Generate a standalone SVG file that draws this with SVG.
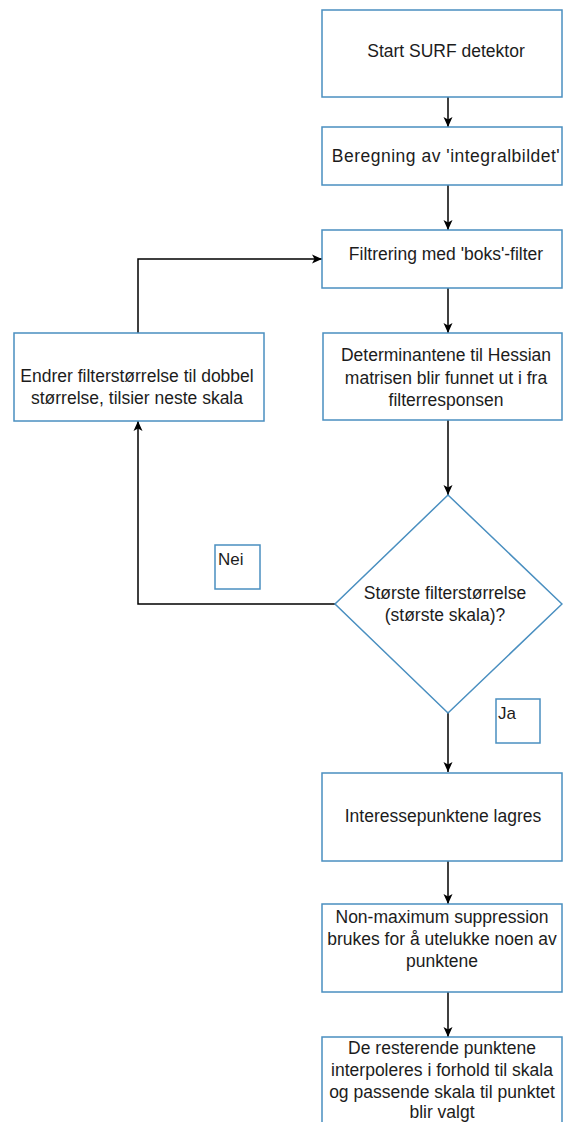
<svg xmlns="http://www.w3.org/2000/svg" width="563" height="1122" viewBox="0 0 563 1122">
  <defs>
    <marker id="arrow" markerUnits="userSpaceOnUse" markerWidth="12" markerHeight="12" viewBox="-1 -6 12 12" refX="10" refY="0" orient="auto">
      <path d="M0,-4.5 L10,0 L0,4.5 L2.5,0 Z" fill="#000"/>
    </marker>
    <style>
      .box { fill: #ffffff; stroke: #4a8fc0; stroke-width: 1.5; }
      .lbl { font-family: "Liberation Sans", Arial, sans-serif; font-size: 17.5px; fill: #1c1c1c; text-anchor: middle; }
      .tag { font-family: "Liberation Sans", Arial, sans-serif; font-size: 17px; fill: #1c1c1c; }
      .edge { fill: none; stroke: #000; stroke-width: 1.5; marker-end: url(#arrow); }
    </style>
  </defs>
  <rect width="563" height="1122" fill="#ffffff"/>

  <g id="connectors">
    <path class="edge" d="M448,97 L448,127"/>
    <path class="edge" d="M448,185 L448,230"/>
    <path class="edge" d="M448,288 L448,333"/>
    <path class="edge" d="M448,420 L448,495"/>
    <path class="edge" d="M448,713 L448,772"/>
    <path class="edge" d="M448,861 L448,904"/>
    <path class="edge" d="M448,992 L448,1037"/>
    <path class="edge" d="M335,604 L138,604 L138,421"/>
    <path class="edge" d="M138,333 L138,259 L322,259"/>
  </g>

  <g id="start">
    <rect class="box" x="322" y="10" width="240" height="87"/>
    <text class="lbl" x="446" y="57">Start SURF detektor</text>
  </g>

  <g id="integral">
    <rect class="box" x="322" y="127" width="240" height="58"/>
    <text class="lbl" x="446" y="162" letter-spacing="0.5">Beregning av 'integralbildet'</text>
  </g>

  <g id="filter">
    <rect class="box" x="322" y="230" width="240" height="58"/>
    <text class="lbl" x="446" y="260">Filtrering med 'boks'-filter</text>
  </g>

  <g id="hessian">
    <rect class="box" x="323" y="333" width="239" height="87"/>
    <text class="lbl" x="446" y="361">Determinantene til Hessian</text>
    <text class="lbl" x="446" y="383.5">matrisen blir funnet ut i fra</text>
    <text class="lbl" x="446" y="406">filterresponsen</text>
  </g>

  <g id="resize">
    <rect class="box" x="14" y="333" width="250" height="88"/>
    <text class="lbl" x="137" y="382">Endrer filterstørrelse til dobbel</text>
    <text class="lbl" x="137" y="403.5">størrelse, tilsier neste skala</text>
  </g>

  <g id="decision">
    <polygon class="box" points="448,495 562,604 448,713 335,604"/>
    <text class="lbl" x="445" y="599">Største filterstørrelse</text>
    <text class="lbl" x="445" y="621">(største skala)?</text>
  </g>

  <g id="label-nei">
    <rect class="box" x="215" y="545" width="45" height="44"/>
    <text class="tag" x="218" y="565">Nei</text>
  </g>

  <g id="label-ja">
    <rect class="box" x="496" y="699" width="44" height="44"/>
    <text class="tag" x="498" y="719">Ja</text>
  </g>

  <g id="store">
    <rect class="box" x="322" y="773" width="240" height="88"/>
    <text class="lbl" x="443" y="822">Interessepunktene lagres</text>
  </g>

  <g id="nms">
    <rect class="box" x="322" y="904" width="240" height="88"/>
    <text class="lbl" x="442" y="923">Non-maximum suppression</text>
    <text class="lbl" x="442" y="945">brukes for å utelukke noen av</text>
    <text class="lbl" x="442" y="967">punktene</text>
  </g>

  <g id="interpolate">
    <rect class="box" x="322" y="1037" width="240" height="100"/>
    <text class="lbl" x="442" y="1054">De resterende punktene</text>
    <text class="lbl" x="442" y="1076">interpoleres i forhold til skala</text>
    <text class="lbl" x="442" y="1098">og passende skala til punktet</text>
    <text class="lbl" x="442" y="1118">blir valgt</text>
  </g>
</svg>
